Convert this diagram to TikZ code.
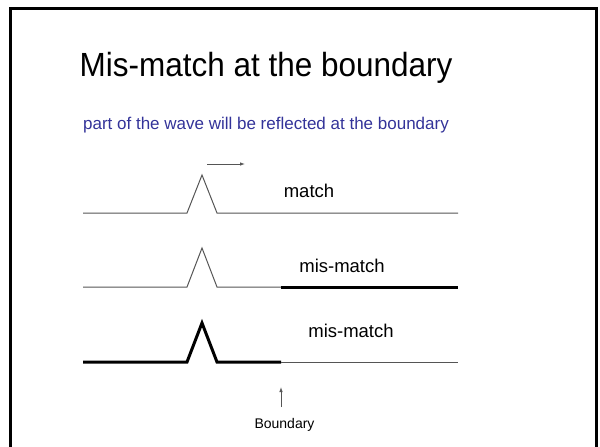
\documentclass[tikz,border=0pt]{standalone}
\usepackage{fontspec}
\setmainfont{Liberation Sans}
\usetikzlibrary{arrows.meta}
\definecolor{subtitle}{HTML}{333399}
\definecolor{thinline}{HTML}{555555}

\begin{document}
\begin{tikzpicture}[x=1pt,y=-1pt,
  >={Latex[length=5pt,width=3.5pt]},
  thinwave/.style={draw=thinline,line width=1pt},
  thickwave/.style={draw=black,line width=3pt,line join=miter},
  lbl/.style={font=\fontsize{18.5}{22}\selectfont,inner sep=0pt,anchor=base},
  ]
  \useasboundingbox (0,0) rectangle (600,447);
  % ---- slide frame ----
  \draw[line width=3pt] (10.5,447) -- (10.5,8.5) -- (596.5,8.5) -- (596.5,447);

  % ---- headings ----
  \node[anchor=base,inner sep=0pt,xscale=0.94,font=\fontsize{33.5}{40}\selectfont] (title) at (266,76)
     {Mis-match at the boundary};
  \node[anchor=base,inner sep=0pt,text=subtitle,font=\fontsize{17}{20}\selectfont] (sub) at (266,129)
     {part of the wave will be reflected at the boundary};

  % ---- row 1: matched line ----
  \coordinate (a0) at (83,213);  \coordinate (a1) at (187,213);
  \coordinate (ap) at (202,175); \coordinate (a2) at (217,213);
  \coordinate (a3) at (458,213);
  \draw[thinwave] (a0) -- (a1) -- (ap) -- (a2) -- (a3);
  \coordinate (go0) at (207,164); \coordinate (go1) at (245,164);
  \draw[->,thinline,line width=0.8pt] (go0) -- (go1);
  \node[lbl] (m1) at (309,197) {match};

  % ---- row 2: pulse arrives on thin side ----
  \coordinate (b0) at (83,287);  \coordinate (b1) at (187,287);
  \coordinate (bp) at (202,248); \coordinate (b2) at (217,287);
  \coordinate (bb) at (281,287); \coordinate (b3) at (458,287);
  \draw[thinwave] (b0) -- (b1) -- (bp) -- (b2) -- (bb);
  \draw[thickwave] (bb) -- (b3);
  \node[lbl] (m2) at (342,272) {mis-match};

  % ---- row 3: pulse arrives on thick side ----
  \coordinate (c0) at (83,362);  \coordinate (c1) at (187,362);
  \coordinate (cp) at (202,323); \coordinate (c2) at (217,362);
  \coordinate (cb) at (281,362); \coordinate (c3) at (458,362);
  \draw[thickwave] (c0) -- (c1) -- (cp) -- (c2) -- (cb);
  \draw[thinwave] (cb) -- (c3);
  \node[lbl] (m3) at (351,337) {mis-match};

  % boundary marker
  \node[anchor=base,inner sep=0pt,font=\fontsize{14}{17}\selectfont] (bnd) at (284.5,428) {Boundary};
  \coordinate (up0) at (281,407); \coordinate (up1) at (281,387);
  \draw[->,thinline,line width=0.8pt] (up0) -- (up1);
\end{tikzpicture}
\end{document}
